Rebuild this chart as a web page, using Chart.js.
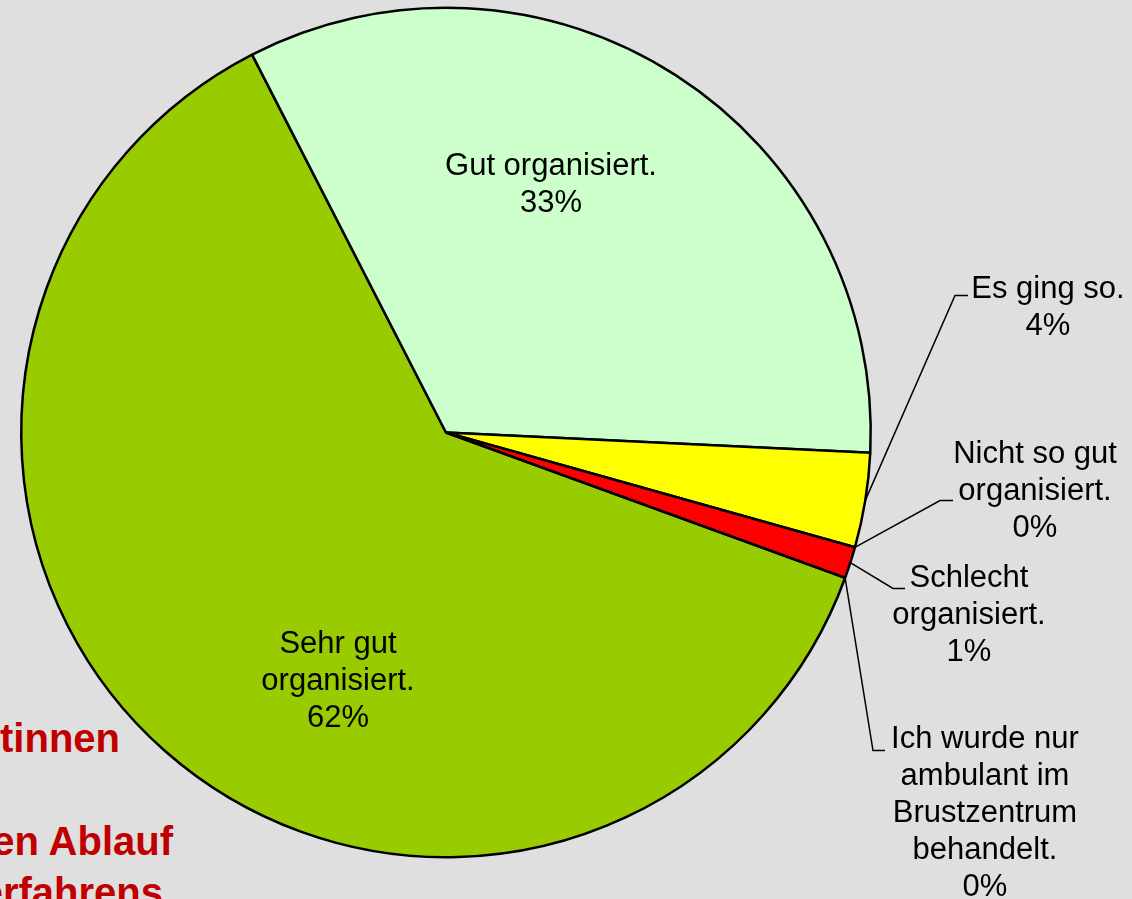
<!DOCTYPE html>
<html lang="de">
<head>
<meta charset="utf-8">
<title>Organisation im Brustzentrum</title>
<script src="https://cdn.jsdelivr.net/npm/chart.js@4/dist/chart.umd.min.js"></script>
<style>
  html, body { margin: 0; padding: 0; background: #dfdfdf; overflow: hidden; }
  #wrap { position: relative; width: 1132px; height: 899px; overflow: hidden; }
  .bgtitle {
    position: absolute; white-space: nowrap; text-align: right;
    font: bold 40px "Liberation Sans", Arial, sans-serif; line-height: 40px;
    color: #c00000;
  }
  canvas { position: absolute; left: 0; top: 0; }
</style>
</head>
<body>
<div id="wrap">
  <!-- Titel liegt hinter dem Kuchen, nur der rechte Teil ist sichtbar -->
  <div class="bgtitle" style="right:1012px; top:718px;">Patientinnen</div>
  <div class="bgtitle" style="right:959px; top:821px;">den Ablauf</div>
  <div class="bgtitle" style="right:969px; top:872px;">Verfahrens</div>
  <canvas id="pie" width="1132" height="899"></canvas>
</div>
<script>
// ===== Daten =====
const categories = [
  ["Sehr gut", "organisiert."],
  ["Gut organisiert."],
  ["Es ging so."],
  ["Nicht so gut", "organisiert."],
  ["Schlecht", "organisiert."],
  ["Ich wurde nur", "ambulant im", "Brustzentrum", "behandelt."]
];
const shares = [61.9, 33.3, 3.6, 0, 1.2, 0];
const sliceColors = ["#99cc00", "#ccffcc", "#ffff00", "#ff8080", "#ff0000", "#3366ff"];

// Beschriftungen: Mitte des Textblocks relativ zum Kreismittelpunkt,
// bei aussenliegenden Labels zusätzlich Knick + Ende der Führungslinie
const labelLayout = [
  { dx: -108, dy: 249 },
  { dx: 105, dy: -248 },
  { dx: 602, dy: -125, elbow: [509, -137], tick: 522 },
  { dx: 589, dy: 59, elbow: [494, 68], tick: 507 },
  { dx: 523, dy: 183, elbow: [447, 156], tick: 459 },
  { dx: 539, dy: 381, elbow: [427, 318], tick: 439 }
];

(function () {
  const FONT = '31px "Liberation Sans", Arial, sans-serif';
  const LINE_H = 37;

  const pieLabels = {
    id: "pieLabels",
    afterDatasetsDraw(chart) {
      const ctx = chart.ctx;
      const meta = chart.getDatasetMeta(0);
      const vals = chart.data.datasets[0].data;
      const total = vals.reduce((a, b) => a + b, 0);
      ctx.save();
      ctx.font = FONT;
      ctx.fillStyle = "#000";
      ctx.textAlign = "center";
      ctx.textBaseline = "middle";
      meta.data.forEach((arc, i) => {
        const p = arc.getProps(["x", "y", "startAngle", "endAngle", "outerRadius"], true);
        const lay = labelLayout[i];
        const lines = categories[i].concat([Math.round(vals[i] / total * 100) + "%"]);
        const cx = p.x + lay.dx, cy = p.y + lay.dy;

        if (lay.elbow) {
          const mid = (p.startAngle + p.endAngle) / 2;
          const ax = p.x + Math.cos(mid) * p.outerRadius;
          const ay = p.y + Math.sin(mid) * p.outerRadius;
          ctx.beginPath();
          ctx.lineWidth = 1.5;
          ctx.strokeStyle = "#000";
          ctx.moveTo(ax, ay);
          ctx.lineTo(p.x + lay.elbow[0], p.y + lay.elbow[1]);
          ctx.lineTo(p.x + lay.tick, p.y + lay.elbow[1]);
          ctx.stroke();
        }

        const top = cy - (lines.length - 1) * LINE_H / 2;
        lines.forEach((t, k) => ctx.fillText(t, cx, top + k * LINE_H));
      });
      ctx.restore();
    }
  };

  new Chart(document.getElementById("pie"), {
    type: "pie",
    data: {
      labels: categories.map(c => c.join(" ")),
      datasets: [{
        data: shares,
        backgroundColor: sliceColors,
        borderColor: "#000",
        borderWidth: 2.5
      }]
    },
    options: {
      responsive: false,
      animation: false,
      rotation: 110,
      layout: { padding: { left: 20, top: 6, right: 260, bottom: 40 } },
      plugins: {
        legend: { display: false },
        tooltip: { enabled: false }
      }
    },
    plugins: [pieLabels]
  });
})();
</script>
</body>
</html>
